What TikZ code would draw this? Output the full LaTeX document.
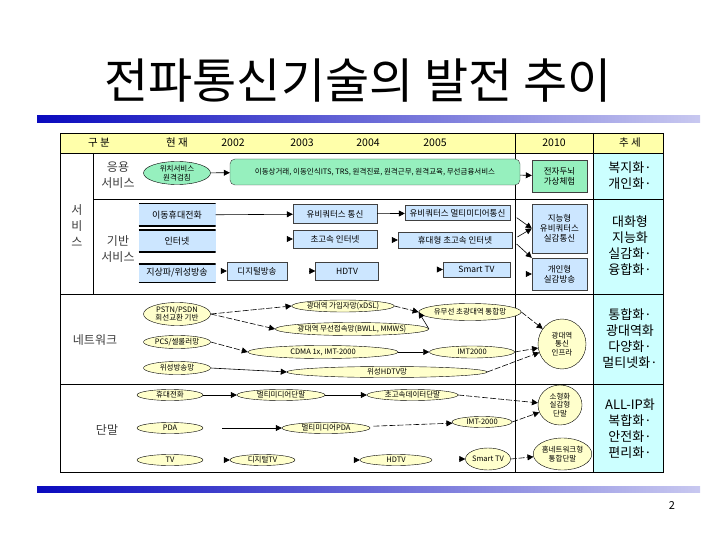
\documentclass[tikz,border=0pt]{standalone}
\usepackage{fontspec}
\setmainfont{Noto Sans CJK KR}
\usetikzlibrary{arrows.meta,shapes.geometric,positioning}
\definecolor{hdr}{RGB}{255,255,170}
\definecolor{trend}{RGB}{204,255,255}
\definecolor{mint}{RGB}{150,240,190}
\definecolor{boxb}{RGB}{204,230,255}
\definecolor{elly}{RGB}{255,255,204}
\definecolor{barl}{RGB}{10,10,190}
\definecolor{barr}{RGB}{200,200,240}
\definecolor{lbl}{RGB}{60,60,60}
\tikzset{
    arr/.style={-{Triangle[length=6pt,width=6pt]}, line width=0.6pt},
    darr/.style={arr, dash pattern=on 6pt off 2pt},
    hd/.style={font=\fontsize{10.5}{12}\selectfont},
    tr/.style={align=center, font=\fontsize{13}{16}\selectfont},
    lab/.style={align=center, text=lbl, font=\fontsize{12}{16}\selectfont},
    ell/.style={ellipse, draw, fill=elly, inner sep=0pt, align=center,
        font=\fontsize{7.5}{8.5}\selectfont},
    gell/.style={ell, fill=mint},
    sbox/.style={rectangle, draw=black!75, fill=boxb, inner sep=0pt,
        font=\fontsize{8.5}{10}\selectfont, align=center},
    gbox/.style={sbox, fill=mint},
    rbox/.style={sbox, fill=mint, rounded corners=5pt, font=\fontsize{7.5}{9}\selectfont},
    lbox/.style={rectangle, fill=boxb, inner sep=0pt, font=\fontsize{9}{10}\selectfont,
        path picture={\draw[line width=2pt]
            (path picture bounding box.north west) -- (path picture bounding box.north east)
            (path picture bounding box.south west) -- (path picture bounding box.south east);}}
}
\begin{document}
\begin{tikzpicture}[x=1pt,y=-1pt]
    \useasboundingbox (0,0) rectangle (720,540);
    \node (title) at (358,81) {\fontsize{48}{50}\selectfont 전파통신기술의 발전 추이};
    \shade[left color=barl, right color=barr] (37,116) rectangle (700,123);
    \shade[left color=barl, right color=barr] (37,486) rectangle (700,492);
    \node[font=\fontsize{11}{12}\selectfont] (page) at (672,506) {2};

    % table frame
    \fill[hdr] (60,133) rectangle (663,153);
    \fill[trend] (593,153) rectangle (663,472);
    \draw (60,133) rectangle (663,472);
    \draw (60,153) -- (663,153) (60,294) -- (663,294) (60,384) -- (663,384)
        (93,199) -- (663,199) (93,153) -- (93,294)
        (515,133) -- (515,472) (593,133) -- (593,472);

    \node[hd] (H0) at (99,143) {구 분};
    \node[hd] (H1) at (177,143) {현 재};
    \node[hd] (H2) at (233,143) {2002};
    \node[hd] (H3) at (302,143) {2003};
    \node[hd] (H4) at (368,143) {2004};
    \node[hd] (H5) at (435,143) {2005};
    \node[hd] (H6) at (554,143) {2010};
    \node[hd] (H7) at (630,143) {추 세};

    \node[lab] (R0) at (77,226) {서\\비\\스};
    \node[lab] (R1) at (118,175) {응용\\서비스};
    \node[lab] (R2) at (118,249) {기반\\서비스};
    \node[lab] (R3) at (95,340) {네트워크};
    \node[lab] (R4) at (107,430) {단말};

    \node[tr] (S0) at (630,176) {복지화·\\개인화·};
    \node[tr] (S1) at (630,246) {대화형\\지능화\\실감화·\\융합화·};
    \node[tr] (S2) at (630,339) {통합화·\\광대역화\\다양화·\\멀티넷화·};
    \node[tr] (S3) at (630,429) {ALL-IP화\\복합화·\\안전화·\\편리화·};

    % services
    \node[gell, minimum width=67pt, minimum height=23pt] (A0) at (177,173) {위치서비스\\원격검침};
    \node[rbox, minimum width=290pt, minimum height=26pt] (A1) at (375,172)
        {이동상거래, 이동인식ITS, TRS, 원격진료, 원격근무, 원격교육, 무선금융서비스};
    \node[gbox, minimum width=55pt, minimum height=32pt] (A2) at (559.5,176) {전자두뇌\\가상체험};
    \path (A0) edge [arr] (A1);
    \path (A1) edge [arr] (A2);

    \node[lbox, minimum width=77pt, minimum height=23pt] (B0_1) at (177,215) {이동휴대전화};
    \node[lbox, minimum width=77pt, minimum height=22pt] (B0_2) at (177,241) {인터넷};
    \node[lbox, minimum width=77pt, minimum height=19pt] (B0_3) at (177,273) {지상파/위성방송};
    \node[sbox, minimum width=60pt, minimum height=18pt] (B2_3) at (257,271) {디지털방송};
    \node[sbox, minimum width=84pt, minimum height=19pt] (B3_1) at (335,214) {유비쿼터스 통신};
    \node[sbox, minimum width=84pt, minimum height=18pt] (B3_2) at (335,239) {초고속 인터넷};
    \node[sbox, minimum width=63pt, minimum height=18pt] (B3_3) at (347,271) {HDTV};
    \node[sbox, minimum width=105pt, minimum height=15pt] (B5_1) at (457.5,213) {유비쿼터스 멀티미디어통신};
    \node[sbox, minimum width=114pt, minimum height=16pt] (B5_2) at (455,240) {휴대형 초고속 인터넷};
    \node[sbox, minimum width=67pt, minimum height=15pt] (B5_3) at (476.5,269.5) {Smart TV};
    \node[sbox, minimum width=55pt, minimum height=49pt] (B6_1) at (559.5,228.5) {지능형\\유비쿼터스\\실감통신};
    \node[sbox, minimum width=55pt, minimum height=32pt] (B6_2) at (559.5,274) {개인형\\실감방송};
    \coordinate[left=6pt of B3_2.west] (t3_2);
    \coordinate[left=6pt of B5_2.west] (t5_2);
    \coordinate[left=6pt of B2_3.west] (t2_3);
    \coordinate[left=6pt of B3_3.west] (t3_3);
    \coordinate[left=6pt of B5_3.west] (t5_3);
    \coordinate[left=6pt of B6_2.west] (t6_2);
    \path (B0_1) edge [arr] (B3_1);
    \path (B3_1) edge [arr] (B5_1);
    \path (t3_2) edge [arr] (B3_2);
    \path (t5_2) edge [arr] (B5_2);
    \path (t2_3) edge [arr] (B2_3);
    \path (t3_3) edge [arr] (B3_3);
    \path (t5_3) edge [arr] (B5_3);
    \path (t6_2) edge [arr] (B6_2);
    \path (B5_1.east) edge [arr, shorten <=8pt] (B6_1.west);
    \path (B5_2.east) edge [arr, shorten <=6pt] (B6_1.west);
    \path (B5_2.east) edge [arr, shorten <=6pt] (B6_2.north west);

    % network
    \node[ell, minimum width=67pt, minimum height=23pt] (N0_1) at (177,314) {PSTN/PSDN\\회선교환 기반};
    \node[ell, minimum width=67pt, minimum height=13pt] (N0_2) at (177,342) {PCS/셀룰러망};
    \node[ell, minimum width=67pt, minimum height=13pt] (N0_3) at (177,368) {위성방송망};
    \node[ell, minimum width=80pt, minimum height=12pt] (N3_1) at (343,306) {광대역 가입자망(xDSL)};
    \node[ell, minimum width=130pt, minimum height=13pt] (N3_2) at (352,329) {광대역 무선접속망(BWLL, MMWS)};
    \node[ell, minimum width=150pt, minimum height=13pt] (N3_3) at (323,352) {CDMA 1x, IMT-2000};
    \node[ell, minimum width=200pt, minimum height=11pt] (N3_4) at (387,372) {위성HDTV망};
    \node[ell, minimum width=100pt, minimum height=17pt] (N5_1) at (470,312) {유무선 초광대역 통합망};
    \node[ell, minimum width=85pt, minimum height=12pt] (N5_2) at (472,352) {IMT2000};
    \node[ell, minimum width=48pt, minimum height=50pt] (N6) at (562,344) {광대역\\통신\\인프라};
    \path (N0_1.east) edge [darr] (N3_1.west);
    \path (N0_1.east) edge [darr] (N3_2.west);
    \path (N3_1.east) edge [darr] (N5_1.west);
    \path (N3_2.east) edge [arr] (N5_1.west);
    \path (N0_2.east) edge [darr] (N3_3.west);
    \path (N3_3.east) edge [arr] (N5_2.west);
    \path (N0_3.east) edge [arr] (N3_4.west);
    \path (N5_1.east) edge [darr] (N6);
    \path (N5_2.east) edge [darr] (N6);
    \path (N3_4.east) edge [darr] (N6);

    % terminals
    \node[ell, minimum width=66pt, minimum height=11pt] (T0_1) at (170,395) {휴대전화};
    \node[ell, minimum width=66pt, minimum height=11pt] (T0_2) at (170,428) {PDA};
    \node[ell, minimum width=66pt, minimum height=11pt] (T0_3) at (170,460) {TV};
    \node[ell, minimum width=88pt, minimum height=11pt] (T2_1) at (281,395) {멀티미디어단말};
    \node[ell, minimum width=88pt, minimum height=11pt] (T2_2) at (326,428) {멀티미디어PDA};
    \node[ell, minimum width=65pt, minimum height=11pt] (T2_3) at (262.5,460) {디지털TV};
    \node[ell, minimum width=91pt, minimum height=11pt] (T4_1) at (412.5,395) {초고속데이터단말};
    \node[ell, minimum width=72pt, minimum height=11pt] (T4_3) at (396,460) {HDTV};
    \node[ell, minimum width=60pt, minimum height=11pt] (T5_2) at (482,422) {IMT-2000};
    \node[ell, minimum width=44pt, minimum height=22pt] (T5_3) at (488,459) {Smart TV};
    \node[ell, minimum width=44pt, minimum height=40pt] (T6_1) at (560,405) {소형화\\실감형\\단말};
    \node[ell, minimum width=40pt, minimum height=32pt] (T6_2) at (562.5,454) {홈네트워크형\\통합단말};
    \coordinate[left=6pt of T2_3.west] (u2_3);
    \coordinate[left=6pt of T4_3.west] (u4_3);
    \coordinate[left=6pt of T5_3.west] (u5_3);
    \path (T0_1) edge [arr] (T2_1);
    \path (T2_1) edge [arr] (T4_1);
    \path (T4_1.east) edge [darr] (T6_1);
    \path (T0_2) edge [arr, shorten <=19pt] (T2_2);
    \path (T2_2) edge [darr, shorten <=5pt] (T5_2);
    \path (T5_2.east) edge [darr] (T6_1);
    \path (u2_3) edge [arr] (T2_3);
    \path (u4_3) edge [arr] (T4_3);
    \path (u5_3) edge [arr] (T5_3);
    \path (T5_3.east) edge [darr] (T6_2);
\end{tikzpicture}
\end{document}
